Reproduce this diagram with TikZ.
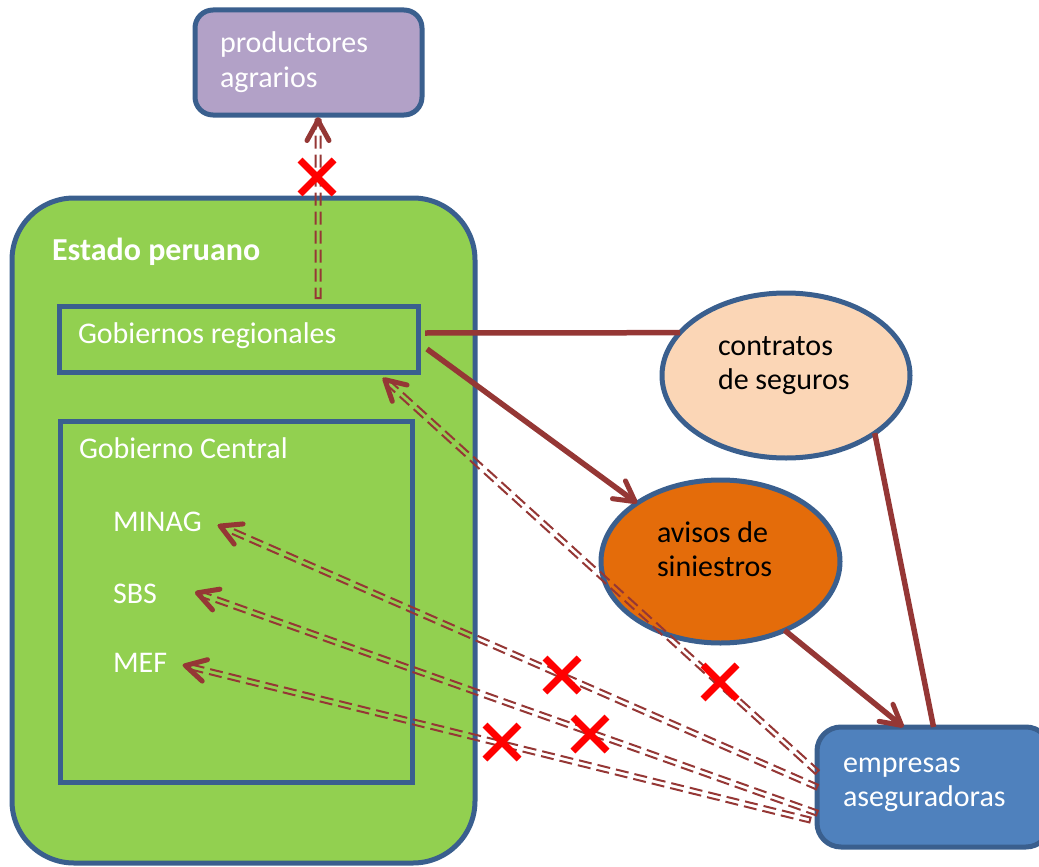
\documentclass[tikz,border=0pt]{standalone}
\usepackage{fontspec}
\setmainfont{Carlito}
\usetikzlibrary{arrows.meta,shapes.geometric,shapes.misc,calc,decorations}

\definecolor{edgeblue}{HTML}{3A5F8E}
\definecolor{lilac}{HTML}{B2A1C7}
\definecolor{leaf}{HTML}{92D050}
\definecolor{peach}{HTML}{FBD6B6}
\definecolor{ember}{HTML}{E46C0A}
\definecolor{steel}{HTML}{4F81BD}
\definecolor{brick}{HTML}{953735}

% two stacked lines whose first baseline is the box baseline
\newcommand{\stackln}[2]{\vtop{\hbox{#1}\hbox{#2}}}

\begin{document}
\begin{tikzpicture}[x=1pt,y=-1pt,
  every node/.style={inner sep=0pt,outer sep=0pt},
  frame/.style={draw=edgeblue,line width=5pt},
  lettering/.style={text=white,anchor=base west,font=\fontsize{30}{34.5}\selectfont},
  darkletters/.style={lettering,text=black},
  link/.style={draw=brick,line width=5.5pt},
  chev/.style={-{Straight Barb[length=20pt,width=22pt,line width=5pt,round]}},
  twin/.style={draw=brick,line width=5pt,line cap=butt,
    dash pattern=on 0pt off 2000pt,
    preaction={draw=brick,arrows=-,line width=2pt,dash pattern=on 13pt off 6pt,
      decorate,decoration={curveto,raise=2.5pt}},
    preaction={draw=brick,arrows=-,line width=2pt,dash pattern=on 13pt off 6pt,
      decorate,decoration={curveto,raise=-2.5pt}}},
  veto/.style={cross out,draw=red,line width=7pt,minimum size=34pt}
]
\useasboundingbox (0,0) rectangle (1039,867);

% Estado peruano and its inner boxes
\node[frame,fill=leaf,rounded corners=62pt,minimum width=463pt,minimum height=665pt]
  (estado) at (243.5,530.5) {};
\node[lettering,font=\bfseries\fontsize{32}{36}\selectfont] (estadoT) at (52,260) {Estado peruano};

\node[frame,minimum width=359pt,minimum height=66pt] (gobreg) at (238.5,339) {};
\node[lettering] (gobregT) at (78,343) {Gobiernos regionales};

\node[frame,minimum width=352pt,minimum height=361pt] (gobcen) at (236,601.5) {};
\node[lettering] (gobcenT) at (79,458) {Gobierno Central};
\node[lettering] (minag) at (113,531) {MINAG};
\node[lettering] (sbs) at (113,603) {SBS};
\node[lettering] (mef) at (113,672) {MEF};

% productores agrarios
\node[frame,fill=lilac,rounded corners=18pt,minimum width=227pt,minimum height=105pt]
  (prod) at (308.5,62.5) {};
\node[lettering] (prodT) at (220,53) {\stackln{productores}{agrarios}};

% contratos de seguros
\node[frame,fill=peach,ellipse,minimum width=248pt,minimum height=165pt]
  (contratos) at (786,375.5) {};
\node[darkletters] (contratosT) at (718,355) {\stackln{contratos}{de seguros}};

% avisos de siniestros
\node[frame,fill=ember,ellipse,minimum width=239pt,minimum height=163pt]
  (avisos) at (720.5,561.5) {};
\node[darkletters] (avisosT) at (657,542) {\stackln{avisos de}{siniestros}};

% empresas aseguradoras
\node[frame,fill=steel,rounded corners=24pt,minimum width=233pt,minimum height=120pt]
  (empresas) at (933.5,787) {};
\node[lettering] (empresasT) at (843,772) {\stackln{empresas}{aseguradoras}};

% solid connectors
\draw[link] ($(gobreg.east)+(7,-6)$) -- (contratos.158);
\draw[link,chev] ($(gobreg.east)+(9,10)$) -- (avisos.145);
\draw[link] (contratos.-33) -- (empresas.north);
\draw[link,chev] (avisos.-47) -- ([xshift=-30pt]empresas.north);

% broken (double dashed) flows
\draw[twin,chev] ([xshift=79.5pt,yshift=8pt]gobreg.north) -- ([xshift=9.5pt,yshift=-3pt]prod.south);
\draw[twin,chev] ([yshift=15pt]empresas.west) -- ($(gobreg.south east)+(-35,6)$);
\draw[twin,chev] (empresas.west) -- ($(minag.base west)+(105,-6)$);
\draw[twin,chev] ([yshift=-26pt]empresas.west) -- ($(sbs.base west)+(82,-11)$);
\draw[twin,chev] ($(empresas.west)+(-7,33)$) -- ($(mef.base west)+(70,-7)$);

% crossings
\node[veto] (x0) at (317,177) {};
\node[veto] (x1) at (562,675) {};
\node[veto] (x2) at (720,682) {};
\node[veto] (x3) at (590,734) {};
\node[veto] (x4) at (502,742) {};
\end{tikzpicture}
\end{document}
